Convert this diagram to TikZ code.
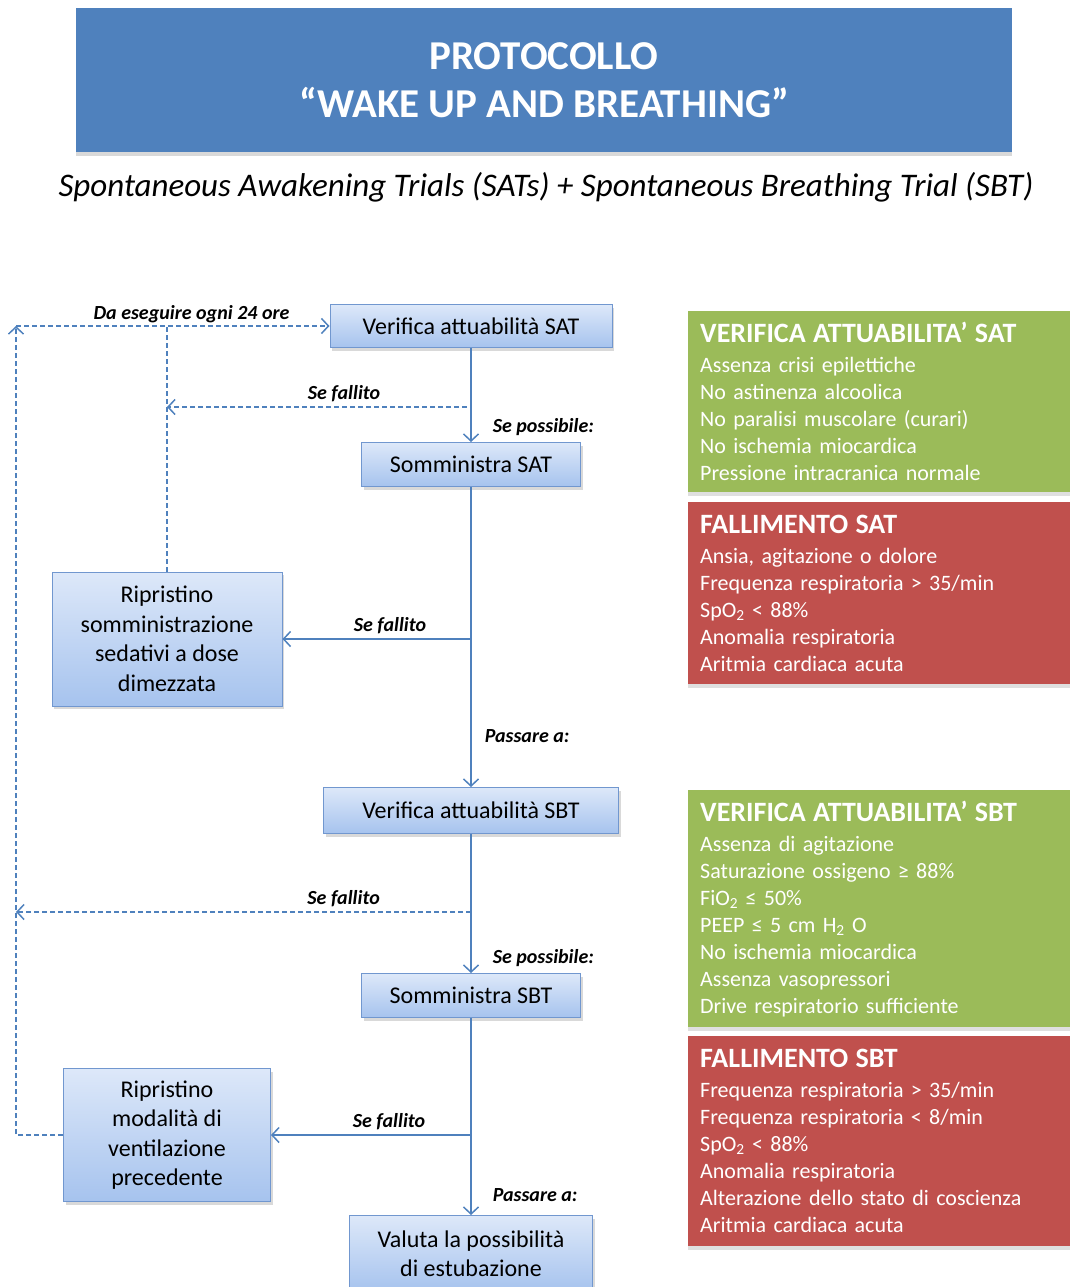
\documentclass[tikz,border=0pt]{standalone}
\usepackage{fontspec}
\setmainfont{Carlito}
\usetikzlibrary{positioning,arrows.meta,shadows}
\definecolor{cblu}{HTML}{4F81BD}
\definecolor{cverde}{HTML}{9BBB59}
\definecolor{crosso}{HTML}{C0504D}
\definecolor{ctop}{HTML}{DDE8F9}
\definecolor{cbot}{HTML}{A6C3EE}
\definecolor{cbordo}{HTML}{7197CF}
\tikzset{
  fase/.style={draw=cbordo, line width=1pt, top color=ctop, bottom color=cbot, align=center, font=\fontsize{24}{29.5}\selectfont, inner sep=4pt, drop shadow={opacity=0.3, shadow xshift=2pt, shadow yshift=-3pt}},
  flow/.style={draw=cblu, line width=1.5pt, -{Straight Barb[length=7pt, width=15pt]}},
  fail/.style={flow, dash pattern=on 5pt off 3pt},
  lbl/.style={font=\fontsize{20}{22}\selectfont\bfseries\itshape, inner sep=2pt},
  crit/.style={anchor=north west, minimum width=390pt, text width=366pt, inner xsep=12pt, align=left, text=white, font=\fontsize{22}{27}\selectfont, drop shadow={opacity=0.25, shadow xshift=0pt, shadow yshift=-4pt}},
  testa/.style={font=\fontsize{28}{30}\selectfont\bfseries},
}

\begin{document}
\begin{tikzpicture}[x=1pt, y=-1pt]
  \useasboundingbox (0,0) rectangle (1070,1287);
  % titolo
  \node[fill=cblu, minimum width=936pt, minimum height=144pt, text=white, align=center, font=\fontsize{41}{48}\selectfont\bfseries, drop shadow={opacity=0.3, shadow xshift=0pt, shadow yshift=-4pt}] (titolo) at (544,80) {PROTOCOLLO\\“WAKE UP AND BREATHING”};
  \node[font=\fontsize{33}{36}\selectfont\itshape] (sottotitolo) at (546,187) {Spontaneous Awakening Trials (SATs) + Spontaneous Breathing Trial (SBT)};

  % percorso principale
  \node[fase, minimum width=282pt, minimum height=43pt] (versat) at (471,326) {Verifica attuabilità SAT};
  \node[fase, minimum width=219pt, minimum height=44pt, below=94pt of versat] (somsat) {Somministra SAT};
  \node[fase, minimum width=295pt, minimum height=46pt, below=300pt of somsat] (versbt) {Verifica attuabilità SBT};
  \node[fase, minimum width=219pt, minimum height=44pt, below=139pt of versbt] (somsbt) {Somministra SBT};
  \node[fase, minimum width=243pt, minimum height=76pt, below=197pt of somsbt] (valuta) {Valuta la possibilità\\di estubazione};
  \node[fase, minimum width=230pt, minimum height=134pt] (ripsed) at (167,639) {Ripristino\\somministrazione\\sedativi a dose\\dimezzata};
  \node[fase, minimum width=207pt, minimum height=133pt] (ripvent) at (167,1135) {Ripristino\\modalità di\\ventilazione\\precedente};

  \coordinate (fsat) at (467,407);
  \coordinate (fsbt) at (471,912);
  \coordinate (giro) at (16,326);

  \draw[flow] (versat) -- node[lbl, pos=0.84, right=19pt] {Se possibile:} (somsat);
  \draw[flow] (somsat) -- node[lbl, pos=0.83, right=11pt] {Passare a:} (versbt);
  \draw[flow] (somsat.south |- ripsed) -- node[lbl, pos=0.43, above=2pt] {Se fallito} (ripsed);
  \draw[flow] (versbt) -- node[lbl, pos=0.89, right=19pt] {Se possibile:} (somsbt);
  \draw[flow] (somsbt) -- node[lbl, pos=0.9, right=19pt] {Passare a:} (valuta);
  \draw[flow] (somsbt.south |- ripvent) -- node[lbl, pos=0.41, above=2pt] {Se fallito} (ripvent);

  % rientri tratteggiati
  \draw[fail] (fsat) -- node[lbl, pos=0.41, above=2pt] {Se fallito} (ripsed.north |- fsat);
  \draw[fail, -] (ripsed) -- (ripsed.north |- giro);
  \draw[fail] (ripvent) -| (giro);
  \draw[fail] (giro) -- node[lbl, pos=0.56, above=0pt] {Da eseguire ogni 24 ore} (versat);
  \draw[fail] (fsbt) -- node[lbl, pos=0.28, above=2pt] {Se fallito} (giro |- fsbt);

  % criteri
  \node[crit, fill=cverde, minimum height=181pt] (oksat) at (688,311) {{\fontsize{28}{30}\selectfont\bfseries VERIFICA ATTUABILITA’ SAT}\\[3pt]
    Assenza crisi epilettiche\\No astinenza alcoolica\\No paralisi muscolare (curari)\\No ischemia miocardica\\Pressione intracranica normale};
  \node[crit, fill=crosso, minimum height=182pt] (kosat) at (688,502) {{\fontsize{28}{30}\selectfont\bfseries FALLIMENTO SAT}\\[3pt]
    Ansia, agitazione o dolore\\Frequenza respiratoria > 35/min\\SpO\textsubscript{2} < 88\%\\Anomalia respiratoria\\Aritmia cardiaca acuta};
  \node[crit, fill=cverde, minimum height=237pt] (oksbt) at (688,790) {{\fontsize{28}{30}\selectfont\bfseries VERIFICA ATTUABILITA’ SBT}\\[3pt]
    Assenza di agitazione\\Saturazione ossigeno ≥ 88\%\\FiO\textsubscript{2} ≤ 50\%\\PEEP ≤ 5 cm H\textsubscript{2} O\\No ischemia miocardica\\Assenza vasopressori\\Drive respiratorio sufficiente};
  \node[crit, fill=crosso, minimum height=210pt] (kosbt) at (688,1036) {{\fontsize{28}{30}\selectfont\bfseries FALLIMENTO SBT}\\[3pt]
    Frequenza respiratoria > 35/min\\Frequenza respiratoria < 8/min\\SpO\textsubscript{2} < 88\%\\Anomalia respiratoria\\Alterazione dello stato di coscienza\\Aritmia cardiaca acuta};
\end{tikzpicture}
\end{document}
